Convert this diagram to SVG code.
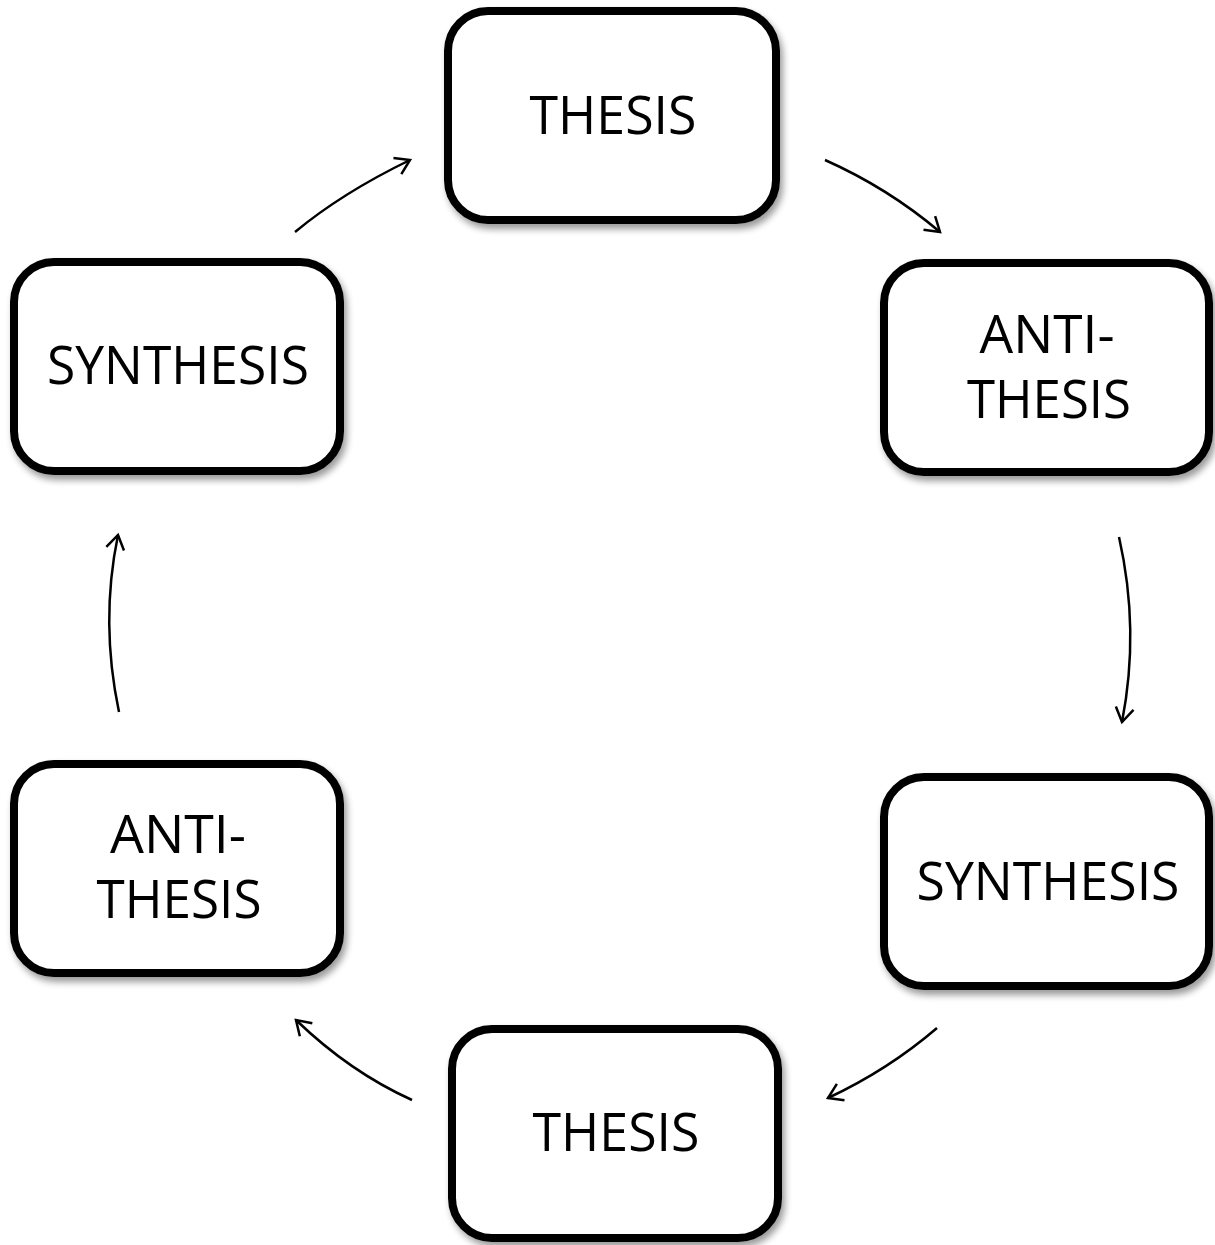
<svg xmlns="http://www.w3.org/2000/svg" width="1215" height="1245" viewBox="0 0 1215 1245">
<style>
.box{fill:#fff;stroke:#000;stroke-width:8;filter:url(#sh)}
.lbl{font-family:"Open Sans","Liberation Sans",sans-serif;font-size:53px;fill:#000;text-anchor:middle}
.conn{fill:none;stroke:#000;stroke-width:2.5;marker-end:url(#ah)}
</style>
<defs>
<filter id="sh" x="-10%" y="-10%" width="125%" height="125%">
<feGaussianBlur in="SourceAlpha" stdDeviation="3.5"/>
<feOffset dx="3" dy="5" result="b"/>
<feComponentTransfer><feFuncA type="linear" slope="0.4"/></feComponentTransfer>
<feMerge><feMergeNode/><feMergeNode in="SourceGraphic"/></feMerge>
</filter>
<marker id="ah" viewBox="0 0 24 24" refX="20" refY="12" markerWidth="24" markerHeight="24" markerUnits="userSpaceOnUse" orient="auto">
<path d="M6 3 L20 12 L6 21" fill="none" stroke="#000" stroke-width="2.5"/>
</marker>
</defs>
<g id="node-thesis-top">
<rect class="box" x="448" y="11" width="328" height="209" rx="40"/>
<text class="lbl" x="613" y="134" textLength="167" lengthAdjust="spacingAndGlyphs">THESIS</text>
</g>
<g id="node-antithesis-right">
<rect class="box" x="884" y="263" width="325" height="209" rx="40"/>
<text class="lbl" x="1047" y="353" textLength="135" lengthAdjust="spacingAndGlyphs">ANTI-</text>
<text class="lbl" x="1049" y="418" textLength="164" lengthAdjust="spacingAndGlyphs">THESIS</text>
</g>
<g id="node-synthesis-right">
<rect class="box" x="884" y="777" width="325" height="209" rx="40"/>
<text class="lbl" x="1048" y="900" textLength="263" lengthAdjust="spacingAndGlyphs">SYNTHESIS</text>
</g>
<g id="node-thesis-bottom">
<rect class="box" x="452" y="1029" width="326" height="209" rx="40"/>
<text class="lbl" x="616" y="1151" textLength="167" lengthAdjust="spacingAndGlyphs">THESIS</text>
</g>
<g id="node-synthesis-left">
<rect class="box" x="14" y="262" width="326" height="209" rx="40"/>
<text class="lbl" x="178" y="384" textLength="262" lengthAdjust="spacingAndGlyphs">SYNTHESIS</text>
</g>
<g id="node-antithesis-left">
<rect class="box" x="14" y="764" width="326" height="209" rx="40"/>
<text class="lbl" x="178" y="853" textLength="136" lengthAdjust="spacingAndGlyphs">ANTI-</text>
<text class="lbl" x="179" y="918" textLength="165" lengthAdjust="spacingAndGlyphs">THESIS</text>
</g>
<g id="connectors">
<path class="conn" d="M295 232 Q342 193 410 160"/>
<path class="conn" d="M825 160 Q888 188 940 232"/>
<path class="conn" d="M1119 537 Q1140 630 1122 722"/>
<path class="conn" d="M937 1028 Q888 1070 828 1098"/>
<path class="conn" d="M412 1100 Q350 1072 296 1020"/>
<path class="conn" d="M119 712 Q100 622 118 535"/>
</g>
</svg>
